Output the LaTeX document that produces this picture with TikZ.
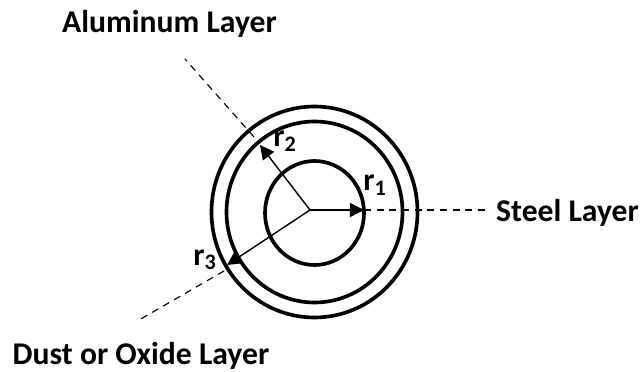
\documentclass[tikz,border=0pt]{standalone}
\usepackage{fontspec}
\setmainfont{Carlito}
\usepackage{xcolor}
\usetikzlibrary{arrows.meta}
\tikzset{every node/.append style={font=\fontsize{22.5}{26}\selectfont\bfseries,inner sep=0pt},
  ring/.style={line width=2.6pt},
  radialarrow/.style={-{Triangle[length=10pt,width=10pt]},line width=1pt},
  guide/.style={line width=0.8pt,dash pattern=on 5pt off 4pt}}

\begin{document}
\begin{tikzpicture}[x=0.025cm,y=-0.025cm]
  \useasboundingbox (0,0) rectangle (643,372);
  % Pixel coordinates of the reference, y pointing down.
  \draw[ring] (314.5,213) ellipse ({49.5*0.025cm} and {52*0.025cm});
  \draw[ring] (314.5,212) ellipse ({88*0.025cm} and {90.5*0.025cm});
  \draw[ring] (314.5,212) ellipse ({103*0.025cm} and {105.5*0.025cm});
  \coordinate (hub) at (310,210);
  \coordinate (endone) at (364,210);
  \coordinate (endtwo) at (260,145);
  \coordinate (endthree) at (227,265);
  \coordinate (steelfree) at (485,210);
  \coordinate (alufree) at (185,59);
  \coordinate (alustart) at (254,137);
  \coordinate (dustfree) at (139,320);
  \coordinate (duststart) at (224,271);
  \draw[radialarrow] (hub) -- (endone);
  \draw[radialarrow] (hub) -- (endtwo);
  \draw[radialarrow] (hub) -- (endthree);
  \draw[guide] (endone) -- (steelfree);
  \draw[guide] (alustart) -- (alufree);
  \draw[guide] (duststart) -- (dustfree);
  \node (rone) at (375,185) {r\textsubscript{1}};
  \node (rtwo) at (285,141) {r\textsubscript{2}};
  \node (rthree) at (205,260) {r\textsubscript{3}};
  \node (aluminum) at (169.5,24) {Aluminum Layer};
  \node (steel) at (567.5,213) {Steel Layer};
  \node (dust) at (141,356) {Dust or Oxide Layer};
\end{tikzpicture}
\end{document}
